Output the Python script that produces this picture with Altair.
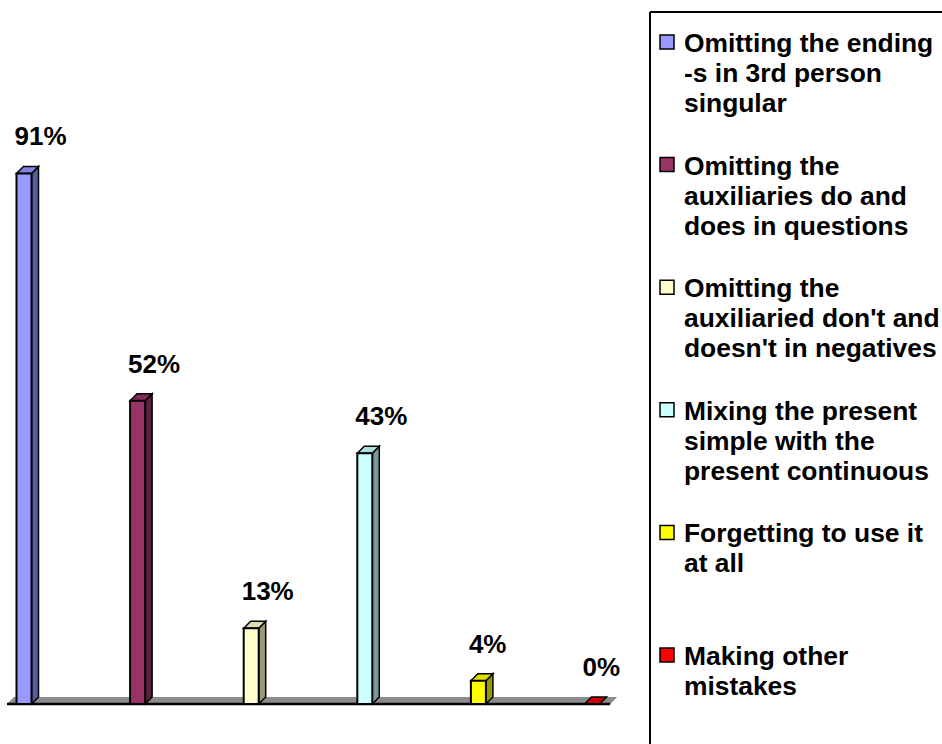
import altair as alt
import pandas as pd

# ---- data ----
categories = [
    "Omitting the ending -s in 3rd person singular",
    "Omitting the auxiliaries do and does in questions",
    "Omitting the auxiliaried don't and doesn't in negatives",
    "Mixing the present simple with the present continuous",
    "Forgetting to use it at all",
    "Making other mistakes",
]
values = [91, 52, 13, 43, 4, 0]
legend_labels = [
    "Omitting the ending\n-s in 3rd person\nsingular",
    "Omitting the\nauxiliaries do and\ndoes in questions",
    "Omitting the\nauxiliaried don't and\ndoesn't in negatives",
    "Mixing the present\nsimple with the\npresent continuous",
    "Forgetting to use it\nat all",
    "Making other\nmistakes",
]

# ---- styles ----
front_colors = ["#9999FF", "#993366", "#FFFFCC", "#CCFFFF", "#FFFF00", "#FF0000"]
side_colors = ["#5C5C99", "#5C1F3D", "#99997A", "#7A9999", "#999900", "#990000"]
top_colors = ["#8585E0", "#852C59", "#DDDDB0", "#B0DDDD", "#DDDD00", "#CC0000"]
FONT = "Liberation Sans, Arial, sans-serif"

W_PX, H_PX = 942, 744
BAR0_PX, STEP_PX = 24.0, 113.6      # first bar centre, bar spacing
BASE_PX, PX_PER_PCT = 704.0, 5.83   # baseline pixel, pixels per percent
BAR_W = 15.0 / STEP_PX              # bar width in category units
DX = 7.0 / STEP_PX                  # 3-D depth (x)
DZ = 7.0 / PX_PER_PCT               # 3-D depth (y)
FLOOR_L, FLOOR_R = -0.15, 0.16

x_lo = -BAR0_PX / STEP_PX
x_hi = (W_PX - BAR0_PX) / STEP_PX
y_lo = -(H_PX - BASE_PX) / PX_PER_PCT
y_hi = BASE_PX / PX_PER_PCT

df = pd.DataFrame({
    "cat": categories,
    "value": values,
    "idx": list(range(len(categories))),
    "legend": legend_labels,
})

def xs():
    return alt.Scale(domain=[x_lo, x_hi], nice=False, zero=False)

def ys():
    return alt.Scale(domain=[y_lo, y_hi], nice=False, zero=False)

def cscale(rng):
    return alt.Scale(domain=categories, range=rng)

base = alt.Chart(df)

# floor parallelogram
floor = (
    base.transform_aggregate(n="count()")
    .transform_calculate(k="[0,1,2,3]")
    .transform_flatten(["k"])
    .transform_calculate(
        fx0=f"{FLOOR_L}", fx1=f"datum.n - 1 + {FLOOR_R}")
    .transform_calculate(
        px=f"datum.k == 0 ? datum.fx0 : datum.k == 1 ? datum.fx0 + {DX} : datum.k == 2 ? datum.fx1 : datum.fx1 + {DX}",
        up=f"datum.k == 0 ? 0 : {DZ}",
        lo=f"datum.k == 3 ? {DZ} : 0",
    )
    .mark_area(orient="vertical", color="#8C8C8C")
    .encode(
        x=alt.X("px:Q", scale=xs(), axis=None),
        y=alt.Y("up:Q", scale=ys(), axis=None, stack=None),
        y2="lo:Q",
    )
)

floor_edge = (
    base.transform_aggregate(n="count()")
    .transform_calculate(fx0=f"{FLOOR_L}", fx1=f"datum.n - 1 + {FLOOR_R}", z="0")
    .mark_rule(color="black", strokeWidth=2.5)
    .encode(
        x=alt.X("fx0:Q", scale=xs(), axis=None),
        x2="fx1:Q",
        y=alt.Y("z:Q", scale=ys(), axis=None),
    )
)

side = (
    base.transform_calculate(k="[0,1]")
    .transform_flatten(["k"])
    .transform_calculate(
        px=f"datum.idx + {BAR_W/2} + datum.k * {DX}",
        up=f"datum.value + datum.k * {DZ}",
        lo=f"datum.k * {DZ}",
    )
    .mark_area(orient="vertical", stroke="black", strokeWidth=1.5, opacity=1)
    .encode(
        x=alt.X("px:Q", scale=xs(), axis=None),
        y=alt.Y("up:Q", scale=ys(), axis=None, stack=None),
        y2="lo:Q",
        color=alt.Color("cat:N", scale=cscale(side_colors), legend=None),
        detail="cat:N",
    )
)

top = (
    base.transform_calculate(k="[0,1,2,3]")
    .transform_flatten(["k"])
    .transform_calculate(
        px=f"datum.idx - {BAR_W/2} + (datum.k == 0 ? 0 : datum.k == 1 ? {DX} : datum.k == 2 ? {BAR_W} : {BAR_W + DX})",
        up=f"datum.value + (datum.k == 0 ? 0 : {DZ})",
        lo=f"datum.value + (datum.k == 3 ? {DZ} : 0)",
    )
    .mark_area(orient="vertical", stroke="black", strokeWidth=1.5, opacity=1)
    .encode(
        x=alt.X("px:Q", scale=xs(), axis=None),
        y=alt.Y("up:Q", scale=ys(), axis=None, stack=None),
        y2="lo:Q",
        color=alt.Color("cat:N", scale=cscale(top_colors), legend=None),
        detail="cat:N",
    )
)

front = (
    base.transform_calculate(
        x0=f"datum.idx - {BAR_W/2}", x1=f"datum.idx + {BAR_W/2}", z="0")
    .mark_rect(stroke="black", strokeWidth=2, opacity=1)
    .encode(
        x=alt.X("x0:Q", scale=xs(), axis=None),
        x2="x1:Q",
        y=alt.Y("z:Q", scale=ys(), axis=None),
        y2="value:Q",
        color=alt.Color("cat:N", scale=cscale(front_colors), legend=None),
    )
)

labels = (
    base.transform_calculate(x0=f"datum.idx - {BAR_W/2}", lab="datum.value + '%'")
    .mark_text(align="left", baseline="middle", dy=-36, dx=-2, fontSize=26,
               fontWeight="bold", font=FONT, color="black")
    .encode(
        x=alt.X("x0:Q", scale=xs(), axis=None),
        y=alt.Y("value:Q", scale=ys(), axis=None),
        text="lab:N",
    )
)

leg_y = alt.Y("cat:N", sort=categories, axis=None,
              scale=alt.Scale(type="point", range=[42, 655], padding=0))

leg_sym = (
    base.mark_square(size=196, opacity=1, stroke="black", strokeWidth=1.5)
    .encode(
        x=alt.value(667),
        y=leg_y,
        color=alt.Color("cat:N", scale=cscale(front_colors), legend=None),
    )
)

leg_text = (
    base.mark_text(align="left", baseline="top", dy=-11, fontSize=26.4,
                   fontWeight="bold", font=FONT, lineBreak="\n",
                   lineHeight=30, color="black")
    .encode(x=alt.value(684), y=leg_y, text="legend:N")
)

one = alt.Chart(alt.Data(values=[{}]))
border_top = one.mark_rule(color="black", strokeWidth=2).encode(
    x=alt.value(650), x2=alt.value(W_PX), y=alt.value(12))
border_left = one.mark_rule(color="black", strokeWidth=2).encode(
    x=alt.value(650), y=alt.value(12), y2=alt.value(H_PX))

chart = (
    alt.layer(floor, floor_edge, side, top, front, labels,
              leg_sym, leg_text, border_top, border_left)
    .resolve_scale(x="independent", y="independent", color="independent")
    .properties(width=W_PX, height=H_PX, padding=0,
                autosize=alt.AutoSizeParams(type="none"))
    .configure_view(stroke=None)
)

chart.save("out.html", embed_options={"renderer": "svg", "actions": False})
